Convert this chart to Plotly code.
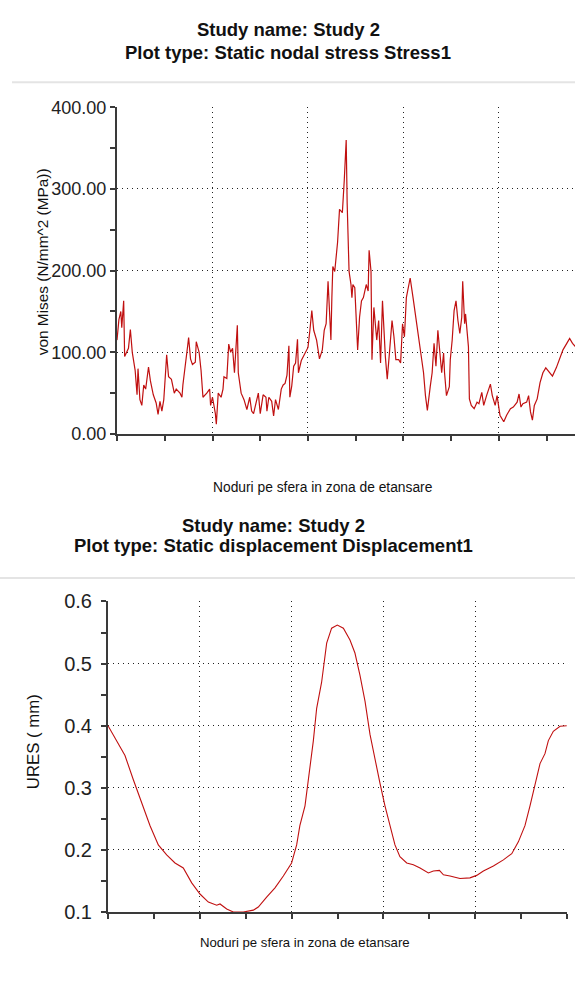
import plotly.graph_objects as go

# ---------------- data ----------------
stress_nodes = [0, 2, 4, 5, 7, 8, 12, 14, 16, 19, 21, 22, 24, 26, 28, 30, 33, 35, 38, 41, 43, 45, 47, 49, 51, 52, 54, 57,
                60, 62, 66, 68, 69, 72, 74, 75, 77, 79, 82, 83, 86, 88, 90, 94, 97, 98, 100, 103, 104, 106, 109, 111,
                112, 115, 117, 119, 121, 123, 124, 126, 127, 130, 133, 136, 139, 141, 143, 146, 148, 150, 153, 156,
                157, 159, 162, 164, 166, 169, 172, 174, 176, 178, 180, 181, 183, 185, 187, 189, 190, 193, 197, 200,
                202, 204, 206, 209, 212, 215, 217, 219, 221, 223, 224, 225, 226, 228, 231, 233, 236, 238, 240, 241,
                243, 245, 246, 247, 249, 252, 254, 256, 258, 261, 263, 264, 266, 267, 269, 272, 274, 276, 278, 281,
                283, 285, 288, 290, 292, 295, 297, 299, 301, 303, 307, 310, 314, 317, 321, 323, 325, 328, 330, 332,
                334, 336, 338, 340, 342, 343, 345, 348, 349, 351, 353, 355, 357, 359, 361, 362, 364, 365, 368, 369,
                371, 374, 377, 379, 382, 384, 387, 391, 393, 396, 398, 401, 405, 408, 412, 415, 419, 421, 423, 425,
                429, 431, 433, 435, 437, 440, 443, 446, 449, 453, 456, 460, 464, 467, 471, 474, 477, 480]
stress_vals = [115, 140, 150, 130, 163, 95, 105, 128, 100, 78, 48, 80, 42, 35, 60, 55, 82, 65, 48, 38, 24, 40, 28, 42, 78, 97, 70, 67,
               50, 55, 50, 45, 60, 85, 108, 118, 92, 85, 88, 113, 100, 78, 45, 50, 55, 35, 45, 25, 12, 50, 45, 55,
               70, 68, 110, 100, 105, 75, 100, 133, 75, 50, 42, 30, 45, 28, 25, 40, 50, 25, 48, 45,
               28, 45, 40, 22, 42, 30, 55, 60, 62, 72, 108, 45, 59, 83, 87, 116, 75, 90, 100, 106,
               127, 151, 127, 115, 92, 103, 127, 135, 187, 130, 115, 167, 205, 199, 235, 275, 271, 311, 360, 283,
               199, 183, 167, 183, 179, 103, 143, 163, 167, 183, 175, 225, 199, 91, 155, 115, 139, 87, 163, 95,
               67, 95, 139, 119, 91, 91, 87, 135, 119, 167, 191, 167, 135, 111, 75, 47, 29, 58, 75, 111,
               83, 127, 95, 75, 99, 75, 47, 58, 91, 115, 151, 163, 139, 123, 143, 187, 135, 147, 107, 43,
               35, 31, 39, 37, 51, 35, 47, 61, 47, 35, 47, 23, 15, 23, 31, 33, 39, 49, 33, 37,
               39, 47, 27, 17, 35, 43, 63, 75, 81, 75, 71, 81, 95, 103, 111, 117, 111, 107]

disp_nodes = [0, 9, 18.5, 27.6, 36.7, 45.8, 54.8, 63.9, 73, 82, 91.2, 100.2, 109.3, 118.4, 122, 129.3, 136.5, 147.4,
              158.3, 163.7, 172.8, 181.9, 191, 200, 205.5, 209, 214.6, 219, 223.7, 227.3, 232.7, 238.2, 243.6, 249.8,
              256.4, 263.6, 269, 274.5, 280, 285.4, 290.8, 296.3, 301.7, 307.2, 312.6, 318, 325.4, 332.6, 339.9,
              349, 354.4, 361, 365.4, 372.5, 383.4, 394.3, 401.6, 408.9, 419.8, 430.7, 439.8, 447, 454.2, 459.7,
              465.1, 470.6, 476, 479.7, 485.1, 492.4, 499.7]
disp_vals = [0.400, 0.376, 0.352, 0.313, 0.276, 0.239, 0.208, 0.192, 0.179, 0.171, 0.147, 0.129, 0.116, 0.111, 0.113,
             0.105, 0.100, 0.100, 0.103, 0.108, 0.124, 0.139, 0.158, 0.179, 0.208, 0.239, 0.271, 0.320, 0.376,
             0.428, 0.470, 0.533, 0.557, 0.562, 0.557, 0.538, 0.517, 0.481, 0.439, 0.386, 0.344, 0.307, 0.271,
             0.239, 0.208, 0.189, 0.179, 0.176, 0.171, 0.163, 0.166, 0.167, 0.160, 0.158, 0.154, 0.155, 0.159,
             0.166, 0.174, 0.184, 0.194, 0.213, 0.239, 0.271, 0.307, 0.339, 0.355, 0.376, 0.391, 0.399, 0.400]

stress_yticks = [0, 100, 200, 300, 400]
stress_yticklabels = ["0.00", "100.00", "200.00", "300.00", "400.00"]
disp_yticks = [0.1, 0.2, 0.3, 0.4, 0.5, 0.6]
disp_yticklabels = ["0.1", "0.2", "0.3", "0.4", "0.5", "0.6"]

title_top = ["Study name: Study 2", "Plot type: Static nodal stress Stress1"]
title_bot = ["Study name: Study 2", "Plot type: Static displacement Displacement1"]
xlabel = "Noduri pe sfera in zona de etansare"
ylabel_top = "von Mises (N/mm^2 (MPa))"
ylabel_bot = "URES ( mm)"

# ---------------- figure ----------------
W, H = 575, 981
def py(p):
    return 1 - p / H

LINE = "#c01010"
AX = "#3a3a3a"
GRID = "#222222"
FONT = "Liberation Sans, Arial, sans-serif"

fig = go.Figure()
fig.add_trace(go.Scatter(x=stress_nodes, y=stress_vals, mode="lines",
                         line=dict(color=LINE, width=1.2), xaxis="x", yaxis="y",
                         showlegend=False, hoverinfo="skip"))
fig.add_trace(go.Scatter(x=disp_nodes, y=disp_vals, mode="lines",
                         line=dict(color=LINE, width=1.1), xaxis="x2", yaxis="y2",
                         showlegend=False, hoverinfo="skip"))

common_x = dict(showline=True, linecolor=AX, linewidth=2, ticks="outside", ticklen=5,
                tickwidth=2, tickcolor=AX, showticklabels=False, showgrid=True,
                gridcolor=GRID, gridwidth=1, griddash="1px,4px", zeroline=False,
                fixedrange=True)
common_y = dict(showline=True, linecolor=AX, linewidth=2, ticks="outside", ticklen=5,
                tickwidth=2, tickcolor=AX, showgrid=True, gridcolor=GRID, gridwidth=1,
                griddash="1px,4px", zeroline=False, fixedrange=True)

fig.update_layout(
    width=W, height=H, margin=dict(l=0, r=0, t=0, b=0),
    paper_bgcolor="white", plot_bgcolor="white",
    font=dict(family=FONT, color="#111111"),
    xaxis=dict(common_x, domain=[117 / W, 1.0], range=[0, 479.6], anchor="y",
               tickvals=[0, 100, 200, 300, 400],
               minor=dict(tickvals=[50, 150, 250, 350, 450], ticks="outside", ticklen=5,
                          tickwidth=2, tickcolor=AX, showgrid=False)),
    yaxis=dict(common_y, domain=[py(432.7), py(98.5)], range=[0, 400], anchor="x",
               tickvals=stress_yticks, ticktext=stress_yticklabels,
               tickfont=dict(size=18, color="#222222", family=FONT),
               minor=dict(tickvals=[50, 150, 250, 350], ticks="outside", ticklen=5,
                          tickwidth=2, tickcolor=AX, showgrid=False)),
    xaxis2=dict(common_x, domain=[108 / W, 567 / W], range=[0, 500], anchor="y2",
                tickvals=[0, 100, 200, 300, 400, 500],
                minor=dict(tickvals=[50, 150, 250, 350, 450], ticks="outside", ticklen=5,
                           tickwidth=2, tickcolor=AX, showgrid=False)),
    yaxis2=dict(common_y, domain=[py(921.7), py(604)], range=[0.1, 0.6], anchor="x2",
                tickvals=disp_yticks, ticktext=disp_yticklabels,
                tickfont=dict(size=20, color="#222222", family=FONT),
                ticklabelstandoff=5,
                minor=dict(tickvals=[0.15, 0.25, 0.35, 0.45, 0.55], ticks="outside", ticklen=5,
                           tickwidth=2, tickcolor=AX, showgrid=False)),
)

ann = []
def add_text(text, x, y, size, bold=False, angle=0):
    ann.append(dict(text=f"<b>{text}</b>" if bold else text, x=x / W, y=py(y),
                    xref="paper", yref="paper", xanchor="center", yanchor="middle",
                    showarrow=False, textangle=angle,
                    font=dict(size=size, family=FONT, color="#111111")))

add_text(title_top[0], 288, 19, 18.5, bold=True)
add_text(title_top[1], 288, 42, 18.5, bold=True)
add_text(title_bot[0], 273, 526, 18.5, bold=True)
add_text(title_bot[1], 273, 547, 18.5, bold=True)
add_text(xlabel, 323, 487, 13.8)
add_text(xlabel, 305, 953, 13.2)
add_text(ylabel_top, 42, 257, 15.4, angle=-90)
add_text(ylabel_bot, 33, 748, 16.8, angle=-90)
fig.update_layout(annotations=ann)

fig.update_layout(shapes=[
    dict(type="line", xref="paper", yref="paper", x0=12 / W, x1=1, y0=py(73), y1=py(73),
         line=dict(color="#e4e4e4", width=2)),
    dict(type="line", xref="paper", yref="paper", x0=0, x1=1, y0=py(580), y1=py(580),
         line=dict(color="#e4e4e4", width=2)),
])

fig.write_html("out.html", config={"displayModeBar": False, "staticPlot": True},
               post_script="document.body.style.margin='0px';document.body.style.overflow='hidden';")
